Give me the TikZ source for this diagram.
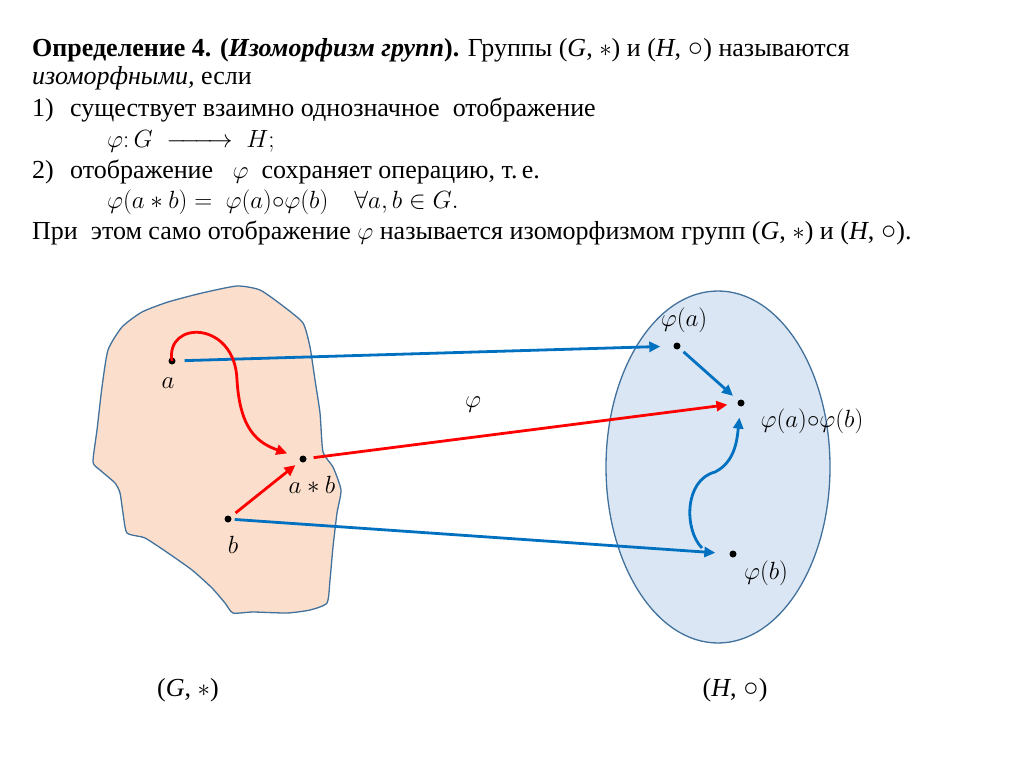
\documentclass[tikz,border=0pt]{standalone}
\usepackage{fontspec}
\setmainfont{Liberation Serif}
\usetikzlibrary{arrows.meta,calc}
\definecolor{peach}{HTML}{FBDFCC}
\definecolor{skyfill}{HTML}{DAE6F3}
\definecolor{rim}{HTML}{41719C}
\definecolor{mapblue}{HTML}{0070C0}
\definecolor{mapred}{HTML}{FF0000}

\begin{document}
\begin{tikzpicture}[x=1pt,y=-1pt,font=\fontsize{26}{30}\selectfont,
   pt/.style={circle,fill=black,inner sep=0pt,minimum size=7pt},
   lbl/.style={inner sep=1pt},
   ln/.style={anchor=base west,inner sep=0pt},
   bl/.style={-{Triangle[length=11pt,width=10pt]},line width=2.8pt,mapblue},
   rd/.style={-{Triangle[length=11pt,width=10pt]},line width=2.8pt,mapred}]
  \useasboundingbox (0,0) rectangle (1024,767);

  % definition text
  \node[ln] (t1) at (32,57) {\textbf{Определение 4. (\textit{Изоморфизм групп}).} Группы (\textit{G}, $*$) и (\textit{H}, ○) называются};
  \node[ln] (t2) at (32,85) {\textit{изоморфными,} если};
  \node[ln] (t3) at (32,117) {\makebox[38pt][l]{1)}существует взаимно однозначное\ \ отображение};
  \node[ln] (t4) at (107,148) {$\varphi\colon G\;\mathrel{\hbox to 66pt{\rightarrowfill}}\; H;$};
  \node[ln] (t5) at (32,179) {\makebox[38pt][l]{2)}отображение\ \ \ $\varphi$\ \ сохраняет операцию, т.\,е.};
  \node[ln] (t6) at (107,209) {$\varphi(a*b) =\ \varphi(a){\circ}\varphi(b)\quad\forall a,b\in G.$};
  \node[ln] (t7) at (32,240) {При\ \ этом само отображение $\varphi$ называется изоморфизмом групп (\textit{G}, $*$) и (\textit{H}, ○).};

  % the two groups
  \draw[rim,fill=peach,line width=1.3pt] plot[smooth cycle,tension=0.35] coordinates {
    (237,286) (260,290) (283,306) (303,323) (310,347) (315,380) (320,413)
    (323,452) (333,467) (341,490) (337,513) (333,547) (330,580) (327,603)
    (310,610) (287,613) (253,612) (233,613) (225,603) (212,588) (192,570)
    (168,553) (145,538) (127,533) (123,513) (120,493) (115,483) (100,470)
    (93,462) (97,430) (102,387) (108,350) (122,327) (142,312) (168,302) (202,293)};
  \draw[rim,fill=skyfill,line width=1.3pt] (718,467) ellipse [x radius=112,y radius=176];

  % points
  \node[pt] (a) at (172,361) {};
  \node[pt] (b) at (228,519) {};
  \node[pt] (ab) at (303,459) {};
  \node[pt] (fa) at (677,346) {};
  \node[pt] (fab) at (741,403) {};
  \node[pt] (fb) at (733,554) {};
  \coordinate (fbtail) at (702,548);

  \node[lbl] (la) at (168,383) {$a$};
  \node[lbl] (lb) at (233,545) {$b$};
  \node[lbl] (lab) at (312,485) {$a*b$};
  \node[lbl] (lfa) at (684,320) {$\varphi(a)$};
  \node[lbl] (lfab) at (812,421) {$\varphi(a){\circ}\varphi(b)$};
  \node[lbl] (lfb) at (766,573) {$\varphi(b)$};
  \node[lbl] (phi) at (473,405) {$\varphi$};
  \node[lbl] (gG) at (188,690) {(\textit{G}, $*$)};
  \node[lbl] (gH) at (735,690) {(\textit{H}, ○)};

  % mapping
  \draw[bl,shorten <=9pt,shorten >=13pt] (a) -- (fa);
  \draw[rd,shorten <=7pt,shorten >=10pt] (ab) -- (fab);
  \draw[bl,shorten <=3pt,shorten >=14pt] (b) -- (fb);
  % operations
  \draw[rd,shorten <=6pt,shorten >=6pt] (b) -- (ab);
  \draw[rd,shorten >=13pt] (a.center) .. controls (165,320) and (235,320) .. (237,380)
     .. controls (240,430) and (258,443) .. (ab);
  \draw[bl,shorten <=5pt,shorten >=7pt] (fa) -- (fab);
  \draw[bl,shorten >=11pt] (fbtail) .. controls (684,530) and (684,480) .. (715,472)
     .. controls (735,462) and (737,440) .. (fab);
\end{tikzpicture}
\end{document}
